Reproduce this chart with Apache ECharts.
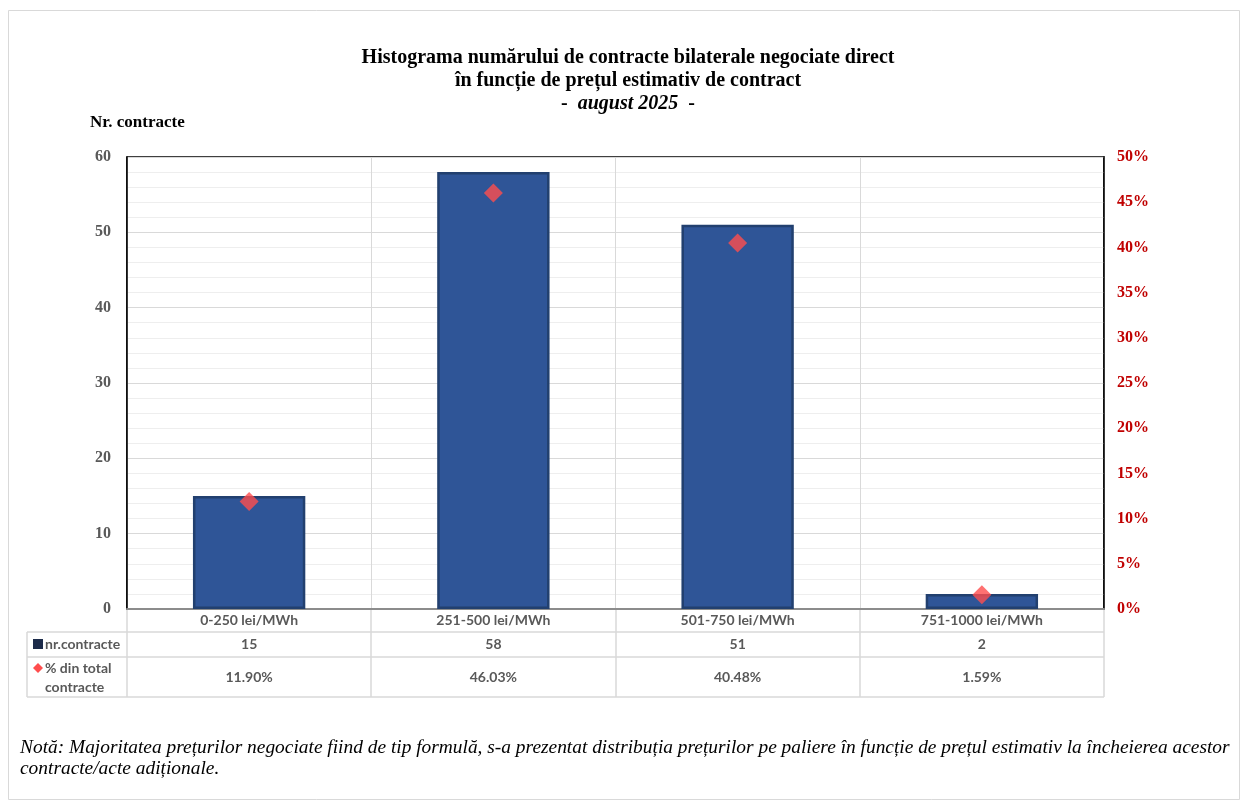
<!DOCTYPE html>
<html><head><meta charset="utf-8">
<script src="https://cdn.jsdelivr.net/npm/echarts@6/dist/echarts.min.js"></script>
<style>html,body{margin:0;padding:0;background:#fff}#c{width:1242px;height:807px}</style>
</head><body><div id="c"></div>
<script>
const categories = ['0-250 lei/MWh', '251-500 lei/MWh', '501-750 lei/MWh', '751-1000 lei/MWh'];
const counts = [15, 58, 51, 2];
const percents = [11.90, 46.03, 40.48, 1.59];
const leftTicks = [0, 10, 20, 30, 40, 50, 60];
const rightTicks = [0, 5, 10, 15, 20, 25, 30, 35, 40, 45, 50];
const titleLines = ['Histograma numărului de contracte bilaterale negociate direct', 'în funcție de prețul estimativ de contract', 'august 2025'];
const seriesNames = ['nr.contracte', '% din total contracte'];
const noteLines = ['Notă: Majoritatea prețurilor negociate fiind de tip formulă, s-a prezentat distribuția prețurilor pe paliere în funcție de prețul estimativ la încheierea acestor', 'contracte/acte adiționale.'];

const SERIF = '"Liberation Serif", "Times New Roman", serif';
const SANS = 'Lato, "Open Sans", sans-serif';
const G = {left: 127, right: 138, top: 157, bottom: 198};
const rows = [609, 632, 657, 697];
const tableLeft = 27;

const chart = echarts.init(document.getElementById('c'), null, {renderer: 'canvas'});
const option = {
  animation: false,
  backgroundColor: '#fff',
  grid: {left: G.left, right: G.right, top: G.top, bottom: G.bottom, show: true, borderColor: '#000', borderWidth: 1.5, backgroundColor: 'transparent'},
  xAxis: {
    type: 'category', data: categories,
    axisLine: {show: true, lineStyle: {color: '#8c8c8c', width: 2}},
    axisTick: {show: false},
    splitLine: {show: true, lineStyle: {color: '#d9d9d9', width: 1}},
    axisLabel: {
      margin: 0, interval: 0, verticalAlign: 'top',
      formatter: (v, i) => '{c|' + v + '}\n{n|' + counts[i] + '}\n{p|' + percents[i].toFixed(2) + '%}',
      rich: {
        c: {fontFamily: SANS, fontWeight: 'bold', fontSize: 14, color: '#595959', lineHeight: 23},
        n: {fontFamily: SANS, fontWeight: 'bold', fontSize: 14, color: '#595959', lineHeight: 25},
        p: {fontFamily: SANS, fontWeight: 'bold', fontSize: 14, color: '#595959', lineHeight: 40}
      }
    }
  },
  yAxis: [{
    type: 'value', min: leftTicks[0], max: leftTicks[leftTicks.length - 1], interval: leftTicks[1] - leftTicks[0],
    axisLine: {show: true, lineStyle: {color: '#000', width: 1.5}},
    axisTick: {show: false},
    axisLabel: {fontFamily: SERIF, fontWeight: 'bold', fontSize: 16, color: '#595959', margin: 16},
    splitLine: {show: true, lineStyle: {color: '#d9d9d9', width: 1}},
    minorTick: {show: false, splitNumber: 5},
    minorSplitLine: {show: true, lineStyle: {color: '#eeeeee', width: 1}}
  }, {
    type: 'value', min: rightTicks[0], max: rightTicks[rightTicks.length - 1], interval: rightTicks[1] - rightTicks[0],
    position: 'right',
    axisLine: {show: true, lineStyle: {color: '#000', width: 1.5}},
    axisTick: {show: false},
    axisLabel: {fontFamily: SERIF, fontWeight: 'bold', fontSize: 16, color: '#c00000', margin: 13, formatter: '{value}%'},
    splitLine: {show: false}
  }],
  series: [{
    name: seriesNames[0], type: 'bar', data: counts, barWidth: '46%', yAxisIndex: 0,
    itemStyle: {color: '#2f5597', borderColor: '#22406f', borderWidth: 2.5},
    z: 2
  }, {
    name: seriesNames[1], type: 'scatter', data: percents, yAxisIndex: 1,
    symbol: 'diamond', symbolSize: [19, 19],
    itemStyle: {color: '#ff4d4d'}, z: 5
  }]
};
chart.setOption(option);

const c0 = chart.convertToPixel({xAxisIndex: 0}, 0);
const c1 = chart.convertToPixel({xAxisIndex: 0}, 1);
const band = c1 - c0;
const lc = '#d9d9d9';
const gr = [];
const plotRight = 1242 - G.right;
[rows[1], rows[2], rows[3]].forEach(y => gr.push({type: 'line', shape: {x1: tableLeft, y1: y, x2: plotRight, y2: y}, style: {stroke: lc, lineWidth: 1.5}, silent: true}));
gr.push({type: 'line', shape: {x1: tableLeft, y1: rows[1], x2: tableLeft, y2: rows[3]}, style: {stroke: lc, lineWidth: 1.5}});
for (let i = 0; i <= categories.length; i++) {
  const x = Math.round(c0 - band / 2 + i * band);
  gr.push({type: 'line', shape: {x1: x, y1: rows[0], x2: x, y2: rows[3]}, style: {stroke: lc, lineWidth: 1.5}});
}
gr.push({type: 'rect', shape: {x: 33, y: 639, width: 10, height: 10}, style: {fill: '#1c2b4a'}});
gr.push({type: 'text', x: 45, y: 644.5, style: {text: seriesNames[0], fontFamily: SANS, fontWeight: 'bold', fontSize: 14, fill: '#595959', verticalAlign: 'middle'}});
gr.push({type: 'polygon', shape: {points: [[38, 663], [43, 668], [38, 673], [33, 668]]}, style: {fill: '#ff4d4d'}});
gr.push({type: 'text', x: 45, y: 677.5, style: {text: '% din total\ncontracte', fontFamily: SANS, fontWeight: 'bold', fontSize: 14, lineHeight: 19, fill: '#595959', verticalAlign: 'middle'}});
gr.push({type: 'text', x: 628, y: 46, style: {
  text: '{b|' + titleLines[0] + '}\n{b|' + titleLines[1] + '}\n{b|-  }{i|' + titleLines[2] + '}{b|  -}',
  textAlign: 'center', verticalAlign: 'top',
  rich: {
    b: {fontFamily: SERIF, fontWeight: 'bold', fontSize: 20, lineHeight: 23, fill: '#000', align: 'center'},
    i: {fontFamily: SERIF, fontWeight: 'bold', fontStyle: 'italic', fontSize: 20, lineHeight: 23, fill: '#000'}
  }
}});
gr.push({type: 'text', x: 90, y: 123, style: {text: 'Nr. contracte', fontFamily: SERIF, fontWeight: 'bold', fontSize: 17, fill: '#000', verticalAlign: 'middle'}});
gr.push({type: 'text', x: 20, y: 737, style: {text: noteLines.join('\n'), fontFamily: SERIF, fontStyle: 'italic', fontSize: 19.4, lineHeight: 21, fill: '#000', verticalAlign: 'top'}});
gr.push({type: 'rect', shape: {x: 8.5, y: 10.5, width: 1231, height: 789}, style: {fill: 'none', stroke: '#d9d9d9', lineWidth: 1}, z: -1});
chart.setOption({graphic: gr});
</script></body></html>
